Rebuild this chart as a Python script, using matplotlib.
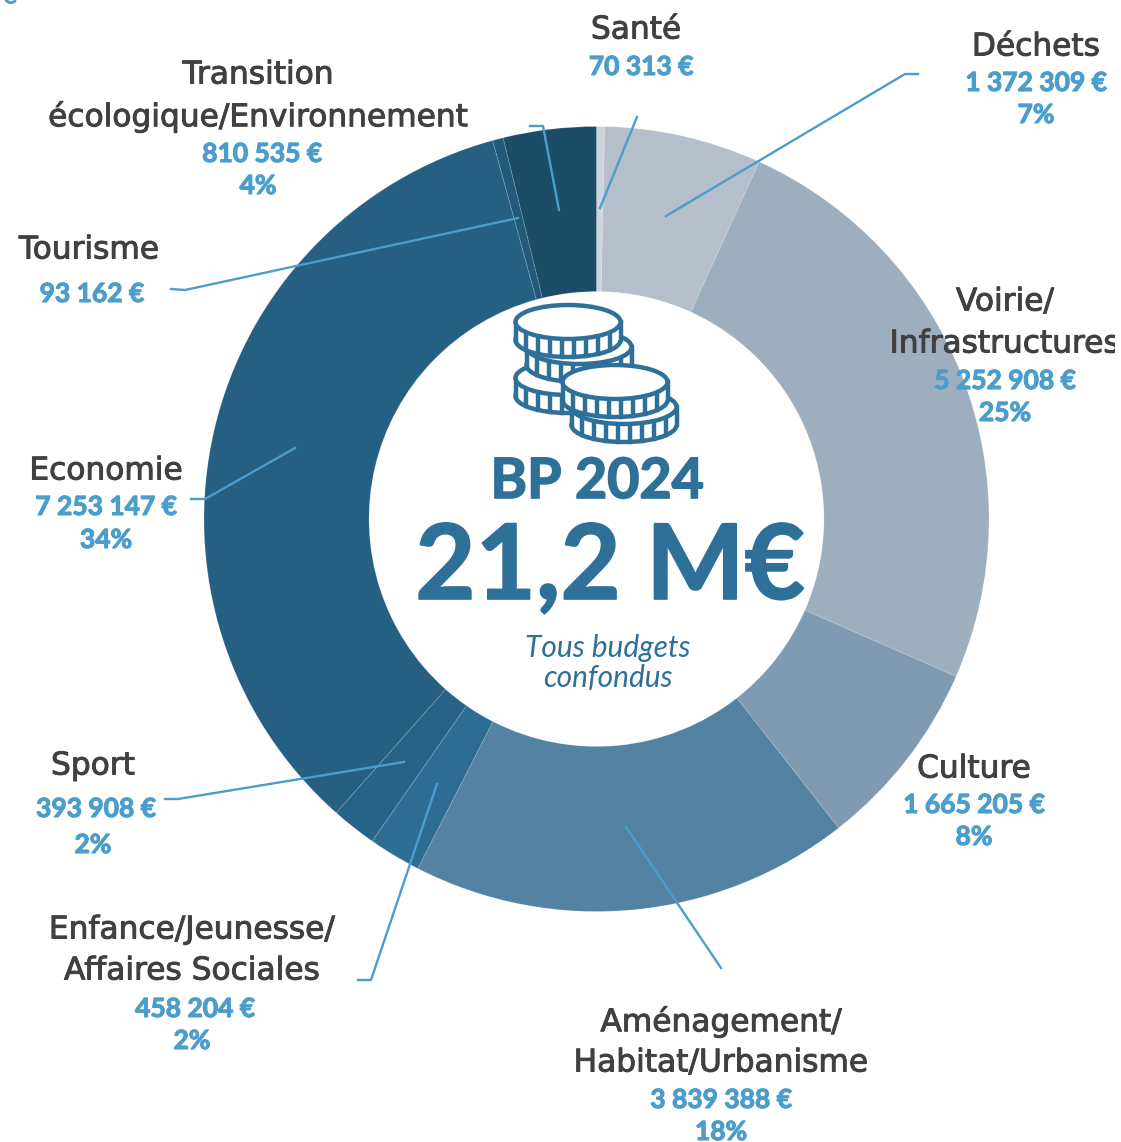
import matplotlib
matplotlib.use('Agg')
import numpy as np
import matplotlib.pyplot as plt
import matplotlib.patheffects as pe
from matplotlib.patches import Ellipse, Rectangle

# clockwise from the top
categories = ['Santé', 'Déchets', 'Voirie/\nInfrastructures', 'Culture',
              'Aménagement/\nHabitat/Urbanisme', 'Enfance/Jeunesse/\nAffaires Sociales',
              'Sport', 'Economie', 'Tourisme', 'Transition\nécologique/Environnement']
values = [70313, 1372309, 5252908, 1665205, 3839388, 458204, 393908, 7253147, 93162, 810535]
value_labels = ['70 313 €', '1 372 309 €', '5 252 908 €', '1 665 205 €', '3 839 388 €',
                '458 204 €', '393 908 €', '7 253 147 €', '93 162 €', '810 535 €']
percent_labels = ['', '7%', '25%', '8%', '18%', '2%', '2%', '34%', '', '4%']
colors = ['#cdd4dc', '#b4bfcb', '#9dafbf', '#7f9ab1', '#5482a3',
          '#2d6d94', '#266386', '#255f82', '#235a7b', '#1b4d69']

LABEL = '#404040'
BLUE = '#4b9dcb'
DARK = '#2e7098'

# label layout in pixels: x of title, y of title line(s), x of value, y of value, y of percent
label_pos = [
    (636, [30], 641, 67, None),
    (1036, [47], 1036, 83, 115),
    (1005, [302, 344], 1005, 381, 413),
    (974, [769], 974, 805, 837),
    (721, [1022, 1063], 721, 1100, 1132),
    (192, [930, 971], 195, 1009, 1041),
    (93, [766], 96, 809, 845),
    (106, [471], 106, 507, 540),
    (89, [250], 92, 294, None),
    (258, [75, 117], 262, 154, 186),
]

leaders = [
    [(637, 117), (600, 208)],
    [(918, 74), (905, 74), (666, 216)],
    None,
    None,
    [(721, 968), (626, 827)],
    [(358, 980), (371, 980), (437, 784)],
    [(165, 799), (178, 799), (404, 762)],
    [(191, 499), (205, 499), (295, 448)],
    [(171, 289), (185, 290), (518, 218)],
    [(530, 126), (543, 126), (559, 210)],
]


def draw_coin(ax, cx, cy, w=105, h=34, depth=18):
    lw = 3.2
    ax.add_patch(Ellipse((cx, cy + depth), w, h, fc='white', ec=DARK, lw=lw, zorder=5))
    ax.add_patch(Rectangle((cx - w / 2, cy), w, depth, fc='white', ec='none', zorder=5))
    ax.plot([cx - w / 2, cx - w / 2], [cy, cy + depth], color=DARK, lw=lw, zorder=5)
    ax.plot([cx + w / 2, cx + w / 2], [cy, cy + depth], color=DARK, lw=lw, zorder=5)
    for t in np.linspace(-0.8, 0.8, 8):
        x = cx + w / 2 * t
        dy = h / 2 * np.sqrt(1 - t ** 2)
        ax.plot([x, x], [cy + dy, cy + dy + depth], color=DARK, lw=lw, zorder=5)
    ax.add_patch(Ellipse((cx, cy), w, h, fc='white', ec=DARK, lw=lw, zorder=5))


fig = plt.figure(figsize=(11.21, 11.42), dpi=100)
ax = fig.add_axes([0, 0, 1, 1])

ax.pie(values, colors=colors, center=(596.5, 519), radius=392.5, startangle=-90,
       counterclock=True, wedgeprops={'width': 165, 'edgecolor': (1, 1, 1, 0.14), 'linewidth': 0.7})
ax.set_xlim(0, 1121)
ax.set_ylim(1142, 0)
ax.set_aspect('equal')
ax.axis('off')

for line in leaders:
    if line:
        ax.plot([p[0] for p in line], [p[1] for p in line], color=BLUE, lw=1.7, zorder=3)

# the picture was cropped on the right, a few pixels before the edge
crop = Rectangle((0, -20), 1115, 1180, transform=ax.transData)
fatter = [pe.withStroke(linewidth=0.7, foreground=LABEL)]
fatter_blue = [pe.withStroke(linewidth=0.8, foreground=BLUE)]
fatter_dark = [pe.withStroke(linewidth=1.2, foreground=DARK)]

for name, val, pct, (x, ys, xv, yv, yp) in zip(categories, value_labels, percent_labels, label_pos):
    for part, y in zip(name.split('\n'), ys):
        t = ax.text(x, y, part, ha='center', va='center', fontsize=22.5, color=LABEL,
                    family='DejaVu Sans', zorder=4, clip_on=True, path_effects=fatter)
        t.set_clip_path(crop)
    ax.text(xv, yv, val, ha='center', va='center', fontsize=19, color=BLUE,
            family='Lato', weight='bold', zorder=4, path_effects=fatter_blue)
    if pct:
        ax.text(x, yp, pct, ha='center', va='center', fontsize=19, color=BLUE,
                family='Lato', weight='bold', zorder=4, path_effects=fatter_blue)

# stray euro sign cut by the top edge
ax.text(17, 4, '€', ha='right', va='baseline', fontsize=20, color=BLUE, family='Lato', weight='bold')

for cx, cy in [(568, 378), (579, 347), (568, 322), (624, 407), (615, 382)]:
    draw_coin(ax, cx, cy)

ax.text(597, 482, 'BP 2024', ha='center', va='center', fontsize=40, color=DARK,
        family='Lato', weight='bold', zorder=6, path_effects=fatter_dark)
ax.text(610, 569, '21,2 M€', ha='center', va='center', fontsize=75, color=DARK,
        family='Lato', weight='bold', zorder=6, path_effects=fatter_dark)
ax.text(608, 648, 'Tous budgets', ha='center', va='center', fontsize=21.5, color=DARK,
        family='Lato', style='italic', zorder=6)
ax.text(608, 678, 'confondus', ha='center', va='center', fontsize=21.5, color=DARK,
        family='Lato', style='italic', zorder=6)

fig.savefig('out.png', dpi=100)
